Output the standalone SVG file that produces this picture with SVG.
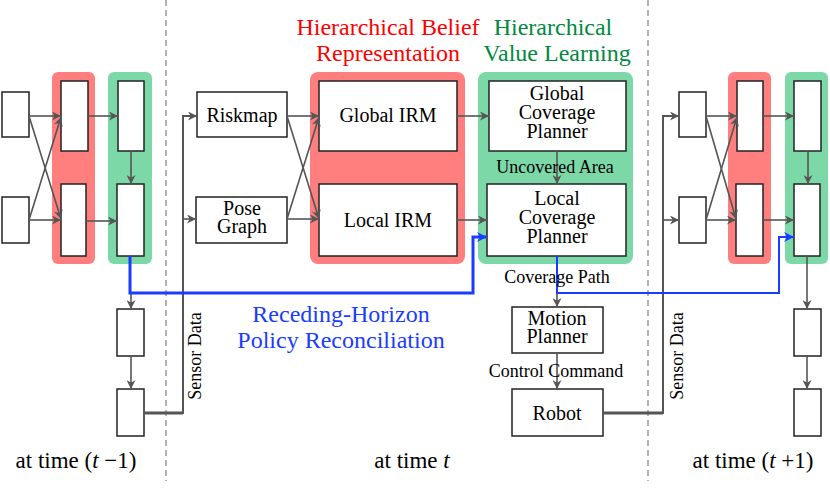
<svg xmlns="http://www.w3.org/2000/svg" width="830" height="489" viewBox="0 0 830 489">
<defs>
<marker id="ag" viewBox="0 0 10 10" refX="10" refY="5" markerWidth="10" markerHeight="9" markerUnits="userSpaceOnUse" orient="auto">
<path d="M0,0 L10,5 L0,10 L3,5 z" fill="#555"/>
</marker>
<marker id="ab" viewBox="0 0 10 10" refX="10" refY="5" markerWidth="11" markerHeight="10" markerUnits="userSpaceOnUse" orient="auto">
<path d="M0,0 L10,5 L0,10 L3,5 z" fill="#1a3cff"/>
</marker>
</defs>
<style>
.box{fill:#fff;stroke:#222;stroke-width:1.5}
.red{fill:#ff7f7f}
.grn{fill:#7dd8a8}
.t{font-family:"Liberation Serif","Times New Roman",serif;fill:#000;text-anchor:middle}
.b{font-size:20px}
.s{font-size:18px}
.ln{fill:none;stroke:#555;stroke-width:1.6}
.thk{fill:none;stroke:#555;stroke-width:3}
.bl{fill:none;stroke:#1a3cff}
.dash{stroke:#999;stroke-width:1.5;stroke-dasharray:6 4}
</style>
<rect width="830" height="489" fill="#fff"/>

<line class="dash" x1="166" y1="0" x2="166" y2="481"/>
<line class="dash" x1="648" y1="0" x2="648" y2="481"/>

<g id="titles">
<text class="t" x="388" y="35" font-size="24" fill="#ff0000" style="fill:#ff0000">Hierarchical Belief</text>
<text class="t" x="388" y="61" font-size="24" style="fill:#ff0000">Representation</text>
<text class="t" x="553" y="35" font-size="24" style="fill:#008a3e">Hierarchical</text>
<text class="t" x="557" y="61" font-size="24" style="fill:#008a3e">Value Learning</text>
<text class="t" x="341" y="322" font-size="24" style="fill:#1a3cff">Receding-Horizon</text>
<text class="t" x="341" y="348" font-size="24" style="fill:#1a3cff">Policy Reconciliation</text>
</g>

<!-- t-1 section -->
<g id="prev-panels">
<rect class="red" x="52" y="72" width="43" height="192" rx="6"/>
<rect class="grn" x="108" y="72" width="44" height="192" rx="6"/>
</g>
<g id="prev-in1"><rect class="box" x="2" y="92" width="27" height="45"/></g>
<g id="prev-in2"><rect class="box" x="2" y="197" width="27" height="46"/></g>
<g id="prev-b1"><rect class="box" x="61" y="81" width="27" height="70"/></g>
<g id="prev-b2"><rect class="box" x="61" y="184" width="25" height="72"/></g>
<g id="prev-v1"><rect class="box" x="118" y="81" width="26" height="70"/></g>
<g id="prev-v2"><rect class="box" x="117" y="184" width="27" height="72"/></g>
<g id="prev-m"><rect class="box" x="117" y="309" width="27" height="47"/></g>
<g id="prev-r"><rect class="box" x="117" y="389" width="27" height="47"/></g>

<!-- t section -->
<g id="belief-panel"><rect class="red" x="310" y="72" width="155" height="192" rx="8"/></g>
<g id="value-panel"><rect class="grn" x="478" y="72" width="155" height="192" rx="8"/></g>
<g id="riskmap"><rect class="box" x="197" y="92" width="90" height="45"/><text class="t b" x="242" y="122">Riskmap</text></g>
<g id="posegraph"><rect class="box" x="196" y="197" width="91" height="46"/><text class="t b" x="242" y="215">Pose</text><text class="t b" x="242" y="233">Graph</text></g>
<g id="global-irm"><rect class="box" x="319" y="81" width="138" height="70"/><text class="t b" x="388" y="122">Global IRM</text></g>
<g id="local-irm"><rect class="box" x="319" y="184" width="138" height="72"/><text class="t b" x="388" y="227">Local IRM</text></g>
<g id="gcp"><rect class="box" x="489" y="81" width="137" height="70"/><text class="t b" x="557" y="100">Global</text><text class="t b" x="557" y="119">Coverage</text><text class="t b" x="557" y="138">Planner</text></g>
<g id="lcp"><rect class="box" x="487" y="184" width="139" height="72"/><text class="t b" x="557" y="205">Local</text><text class="t b" x="557" y="224">Coverage</text><text class="t b" x="557" y="243">Planner</text></g>
<g id="motion"><rect class="box" x="512" y="307" width="91" height="46"/><text class="t b" x="557" y="325">Motion</text><text class="t b" x="557" y="343">Planner</text></g>
<g id="robot"><rect class="box" x="512" y="389" width="91" height="47"/><text class="t b" x="557" y="420">Robot</text></g>

<!-- t+1 section -->
<g id="next-panels">
<rect class="red" x="728" y="72" width="43" height="192" rx="6"/>
<rect class="grn" x="785" y="72" width="43" height="192" rx="6"/>
</g>
<g id="next-in1"><rect class="box" x="679" y="92" width="27" height="45"/></g>
<g id="next-in2"><rect class="box" x="679" y="197" width="27" height="46"/></g>
<g id="next-b1"><rect class="box" x="737" y="81" width="26" height="70"/></g>
<g id="next-b2"><rect class="box" x="736" y="184" width="27" height="72"/></g>
<g id="next-v1"><rect class="box" x="794" y="81" width="27" height="70"/></g>
<g id="next-v2"><rect class="box" x="794" y="184" width="26" height="72"/></g>
<g id="next-m"><rect class="box" x="794" y="309" width="27" height="47"/></g>
<g id="next-r"><rect class="box" x="794" y="389" width="27" height="47"/></g>

<g id="connectors">
<!-- t-1 -->
<path class="ln" d="M29,116 L61,116" marker-end="url(#ag)"/>
<path class="ln" d="M29,116 L61,219" marker-end="url(#ag)"/>
<path class="ln" d="M29,220 L61,117" marker-end="url(#ag)"/>
<path class="ln" d="M29,220 L61,220" marker-end="url(#ag)"/>
<path class="ln" d="M88,116 L118,116" marker-end="url(#ag)"/>
<path class="ln" d="M86,221 L117,221" marker-end="url(#ag)"/>
<path class="ln" d="M131,151 L131,184" marker-end="url(#ag)"/>
<path class="ln" d="M131,293 L131,309" marker-end="url(#ag)"/>
<path class="ln" d="M131,356 L131,389" marker-end="url(#ag)"/>
<path class="thk" d="M144,413 L183,413"/>
<path class="ln" d="M183,414 L183,116 L197,116" marker-end="url(#ag)" style="stroke-width:2"/>
<path class="ln" d="M183,219 L196,219" marker-end="url(#ag)"/>
<!-- t -->
<path class="ln" d="M287,116 L319,116" marker-end="url(#ag)"/>
<path class="ln" d="M287,116 L319,219" marker-end="url(#ag)"/>
<path class="ln" d="M287,219 L319,117" marker-end="url(#ag)"/>
<path class="ln" d="M287,219 L319,219" marker-end="url(#ag)"/>
<path class="ln" d="M457,116 L489,116" marker-end="url(#ag)"/>
<path class="ln" d="M457,220 L487,220" marker-end="url(#ag)"/>
<path class="ln" d="M557,151 L557,184" marker-end="url(#ag)"/>
<path class="ln" d="M557,293 L557,307" marker-end="url(#ag)"/>
<path class="ln" d="M557,353 L557,389" marker-end="url(#ag)"/>
<path class="thk" d="M603,413 L663,413"/>
<path class="ln" d="M663,414 L663,116 L679,116" marker-end="url(#ag)" style="stroke-width:2"/>
<path class="ln" d="M663,220 L679,220" marker-end="url(#ag)"/>
<!-- t+1 -->
<path class="ln" d="M706,116 L737,116" marker-end="url(#ag)"/>
<path class="ln" d="M706,116 L736,219" marker-end="url(#ag)"/>
<path class="ln" d="M706,220 L737,117" marker-end="url(#ag)"/>
<path class="ln" d="M706,220 L736,220" marker-end="url(#ag)"/>
<path class="ln" d="M763,116 L794,116" marker-end="url(#ag)"/>
<path class="ln" d="M763,220 L794,220" marker-end="url(#ag)"/>
<path class="ln" d="M808,151 L808,184" marker-end="url(#ag)"/>
<path class="ln" d="M807,256 L807,309" marker-end="url(#ag)"/>
<path class="ln" d="M807,356 L807,389" marker-end="url(#ag)"/>
<!-- blue -->
<path class="bl" d="M130,256 L130,293 L473,293 L473,237 L487,237" stroke-width="3" marker-end="url(#ab)"/>
<path class="bl" d="M557,256 L557,293 L779,293 L779,237 L794,237" stroke-width="2" marker-end="url(#ab)"/>
</g>

<g id="labels">
<text class="t s" x="555" y="173">Uncovered Area</text>
<text class="t s" x="557" y="283">Coverage Path</text>
<text class="t s" x="556" y="377">Control Command</text>
<text class="t s" transform="translate(201,356) rotate(-90)">Sensor Data</text>
<text class="t s" transform="translate(683,356) rotate(-90)">Sensor Data</text>
<text class="t" x="76" y="468" font-size="23">at time (<tspan font-style="italic">t</tspan> −1)</text>
<text class="t" x="412" y="468" font-size="23">at time <tspan font-style="italic">t</tspan></text>
<text class="t" x="753" y="468" font-size="23">at time (<tspan font-style="italic">t</tspan> +1)</text>
</g>
</svg>
